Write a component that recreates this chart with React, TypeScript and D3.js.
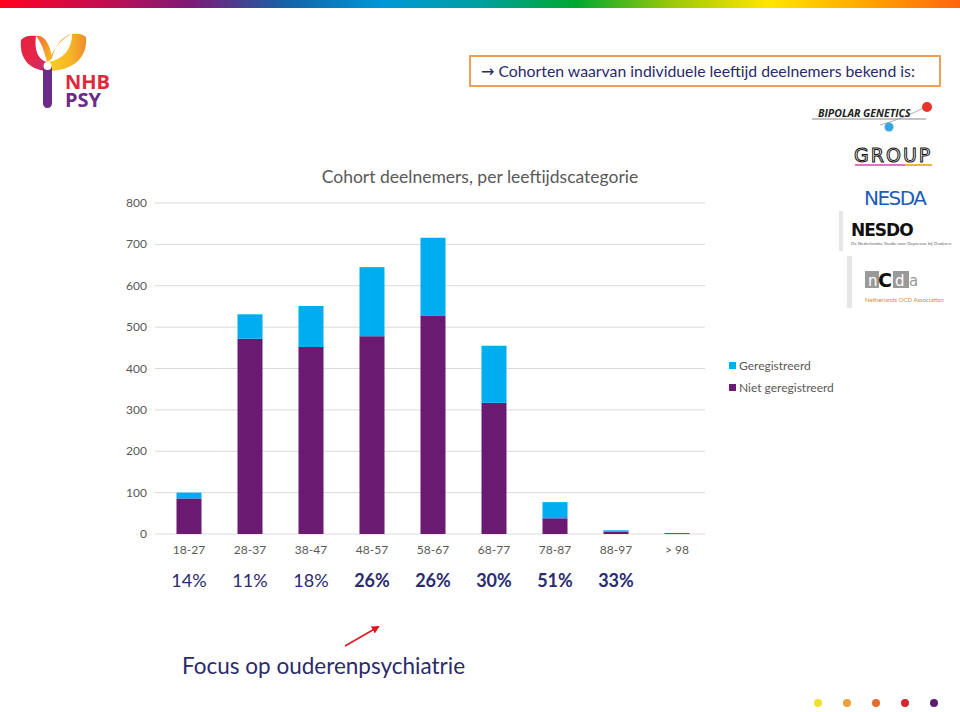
import React from "react";
import * as d3 from "d3";

const categories = ["18-27", "28-37", "38-47", "48-57", "58-67", "68-77", "78-87", "88-97", "> 98"];
const nietGeregistreerd = [86, 472, 452, 478, 527, 317, 38, 6, 2];
const geregistreerd = [14, 59, 99, 167, 189, 138, 39, 3, 0];
const yTicks = [0, 100, 200, 300, 400, 500, 600, 700, 800];
const percentLabels = ["14%", "11%", "18%", "26%", "26%", "30%", "51%", "33%"];
const percentBold = [false, false, false, true, true, true, true, true];
const seriesNames = ["Geregistreerd", "Niet geregistreerd"];

const PURPLE = "#6A1B71";
const CYAN = "#00AEEF";
const FONT = "Lato, 'Open Sans', sans-serif";

export default function App() {
  const x = d3.scaleBand<string>().domain(categories).range([158.5, 707.5]).paddingInner(0.59).paddingOuter(0.295);
  const y = d3.scaleLinear().domain([0, 800]).range([534, 203]);

  const stacked = d3.stack<any>().keys(["niet", "reg"])(
    categories.map((c, i) => ({ cat: c, niet: nietGeregistreerd[i], reg: geregistreerd[i] }))
  );
  const colors: Record<string, string> = { niet: PURPLE, reg: CYAN };

  const gradStops = [
    [0, "#FF0020"], [0.1, "#C80E4E"], [0.2, "#7C1A78"], [0.3, "#1464A8"], [0.4, "#0098D8"],
    [0.5, "#00A0A0"], [0.6, "#00A830"], [0.7, "#9CC80A"], [0.8, "#FFE600"], [0.9, "#FFA800"], [1, "#FF6410"],
  ];

  const dots = ["#F0E22C", "#EAA13A", "#E2712E", "#D6262F", "#5B1D6E"];
  const dotX = [818, 847, 876, 905, 934];

  return (
    <svg width={960} height={712} style={{ position: "absolute", left: 0, top: 0, background: "#fff" }} fontFamily={FONT}>
      <defs>
        <linearGradient id="topbar" x1="0" x2="1" y1="0" y2="0">
          {gradStops.map(([o, c], i) => (
            <stop key={i} offset={o as number} stopColor={c as string} />
          ))}
        </linearGradient>
        <linearGradient id="armL" x1="0" x2="1" y1="0" y2="1">
          <stop offset="0" stopColor="#E8203A" />
          <stop offset="0.6" stopColor="#E2284C" />
          <stop offset="1" stopColor="#B8307A" />
        </linearGradient>
        <linearGradient id="armR" x1="0" x2="1" y1="0" y2="0">
          <stop offset="0" stopColor="#F9D21C" />
          <stop offset="0.6" stopColor="#F6B426" />
          <stop offset="1" stopColor="#EE8A30" />
        </linearGradient>
        <linearGradient id="armM" x1="0" x2="1" y1="0" y2="1">
          <stop offset="0" stopColor="#F06A36" />
          <stop offset="1" stopColor="#F8C022" />
        </linearGradient>
        <marker id="arrowhead" markerWidth="8" markerHeight="8" refX="6" refY="4" orient="auto" markerUnits="userSpaceOnUse">
          <path d="M0,0 L8,4 L0,8 Z" fill="#E0141E" />
        </marker>
      </defs>

      {/* top rainbow bar */}
      <rect x={0} y={0} width={960} height={8} fill="url(#topbar)" />

      {/* NHB PSY logo */}
      <g>
        <path d="M21,40 C19,60 31,70 47,71 L47,62 C38,60 34,50 36,36 C30,35 24,36 21,40 Z" fill="url(#armL)" />
        <path d="M36,36 C44,34 50,44 52,58 L47,62 C44,50 41,42 36,36 Z" fill="url(#armM)" />
        <path d="M86,37 C88,60 70,71 48,71 L48,62 C62,60 72,50 72,34 C78,33 83,34 86,37 Z" fill="url(#armR)" />
        <path d="M72,34 C62,36 55,46 52,58 L48,62 C54,48 62,38 72,34 Z" fill="#F2A52C" />
        <rect x={43} y={64} width={9} height={44} rx={4.5} fill="#6A2C86" />
        <circle cx={47.5} cy={66} r={4} fill="#fff" />
        <text x={65} y={89} fontSize={20} fontWeight={700} fill="#E3263A" fontFamily="'Open Sans', sans-serif">NHB</text>
        <text x={65} y={107} fontSize={20} fontWeight={700} fill="#6A2C86" fontFamily="'Open Sans', sans-serif">PSY</text>
      </g>

      {/* header box */}
      <rect x={470} y={56} width={470} height={30} fill="none" stroke="#EFA055" strokeWidth={2} />
      <text x={481} y={77} fontSize={15.8} fill="#2A2A6A">
        <tspan fontFamily="'DejaVu Sans', sans-serif" fontSize={16}>→</tspan> Cohorten waarvan individuele leeftijd deelnemers bekend is:
      </text>

      {/* right logos */}
      <g>
        <line x1={812} y1={119} x2={926} y2={119} stroke="#888" strokeWidth={1} />
        <path d="M880,125 Q905,118 925,107" fill="none" stroke="#999" strokeWidth={0.8} />
        <circle cx={927} cy={107} r={5} fill="#E8322A" />
        <circle cx={889} cy={127} r={4.5} fill="#3AA6E0" />
        <text x={818} y={117} fontSize={10.5} fontWeight={700} fontStyle="italic" fill="#222" fontFamily="'Open Sans', sans-serif">
          BIPOLAR GENETICS
        </text>
        <text x={854} y={162} fontSize={19} fill="none" stroke="#111" strokeWidth={1} letterSpacing={2} fontFamily="'DejaVu Sans', sans-serif">
          GROUP
        </text>
        <line x1={855} y1={165} x2={932} y2={165} stroke="#E040B0" strokeWidth={1.5} />
        <line x1={905} y1={165} x2={932} y2={165} stroke="#F0D000" strokeWidth={1.5} />
        <text x={864} y={205} fontSize={20} fill="#1C5CB8" fontFamily="'DejaVu Sans', sans-serif" letterSpacing={-1.5}>
          NESDA
        </text>
        <rect x={839} y={211} width={4} height={40} fill="#E6E6E6" />
        <text x={851} y={236} fontSize={17} fontWeight={700} fill="#111" fontFamily="'DejaVu Sans', sans-serif" letterSpacing={-1}>
          NESDO
        </text>
        <text x={851} y={245} fontSize={4.5} fill="#666">De Nederlandse Studie naar Depressie bij Ouderen</text>
        <rect x={847} y={256} width={5} height={52} fill="#E6E6E6" />
        <rect x={865} y={271} width={14} height={17} fill="#9A9A9A" />
        <text x={868} y={286} fontSize={15} fill="#fff" fontFamily="'DejaVu Sans', sans-serif">n</text>
        <text x={878} y={287} fontSize={19} fontWeight={700} fill="#111" fontFamily="'DejaVu Sans', sans-serif">C</text>
        <rect x={893} y={271} width={15} height={17} fill="#9A9A9A" />
        <text x={895} y={286} fontSize={15} fill="#fff" fontFamily="'DejaVu Sans', sans-serif">d</text>
        <rect x={908} y={271} width={1} height={17} fill="#9A9A9A" />
        <text x={909} y={286} fontSize={15} fill="#9A9A9A" fontFamily="'DejaVu Sans', sans-serif">a</text>
        <text x={865} y={302} fontSize={6} fill="#D08A3A">Netherlands OCD Association</text>
      </g>

      {/* chart title */}
      <text x={480} y={183} textAnchor="middle" fontSize={17.5} fill="#595959">
        Cohort deelnemers, per leeftijdscategorie
      </text>

      {/* gridlines and y ticks */}
      {yTicks.map((t) => (
        <g key={t}>
          <line x1={155} x2={705} y1={y(t)} y2={y(t)} stroke="#D9D9D9" strokeWidth={1} />
          <text x={147} y={y(t) + 4} textAnchor="end" fontSize={12} fill="#595959">
            {t}
          </text>
        </g>
      ))}

      {/* bars */}
      {stacked.map((s) => (
        <g key={s.key} fill={colors[s.key]}>
          {s.map((d, i) => (
            <rect
              key={i}
              x={x(categories[i])}
              width={x.bandwidth()}
              y={y(d[1])}
              height={Math.max(0, y(d[0]) - y(d[1]))}
            />
          ))}
        </g>
      ))}

      {/* x labels */}
      {categories.map((c) => (
        <text key={c} x={(x(c) as number) + x.bandwidth() / 2} y={554} textAnchor="middle" fontSize={12} fill="#595959">
          {c}
        </text>
      ))}

      {/* legend */}
      {seriesNames.map((n, i) => (
        <g key={n}>
          <rect x={729} y={362 + i * 22} width={7} height={7} fill={i === 0 ? CYAN : PURPLE} />
          <text x={739} y={370 + i * 22} fontSize={12} fill="#595959">
            {n}
          </text>
        </g>
      ))}

      {/* percentages */}
      {percentLabels.map((p, i) => (
        <text
          key={i}
          x={(x(categories[i]) as number) + x.bandwidth() / 2}
          y={587}
          textAnchor="middle"
          fontSize={18}
          fontWeight={percentBold[i] ? 700 : 400}
          fill="#2B2B70"
        >
          {p}
        </text>
      ))}

      {/* arrow and focus text */}
      <line x1={345} y1={646} x2={378} y2={627} stroke="#E0141E" strokeWidth={1.5} markerEnd="url(#arrowhead)" />
      <text x={182} y={674} fontSize={22.5} fill="#2B2B6B">
        Focus op ouderenpsychiatrie
      </text>

      {/* bottom dots */}
      {dots.map((c, i) => (
        <circle key={i} cx={dotX[i]} cy={703} r={4} fill={c} />
      ))}
    </svg>
  );
}
